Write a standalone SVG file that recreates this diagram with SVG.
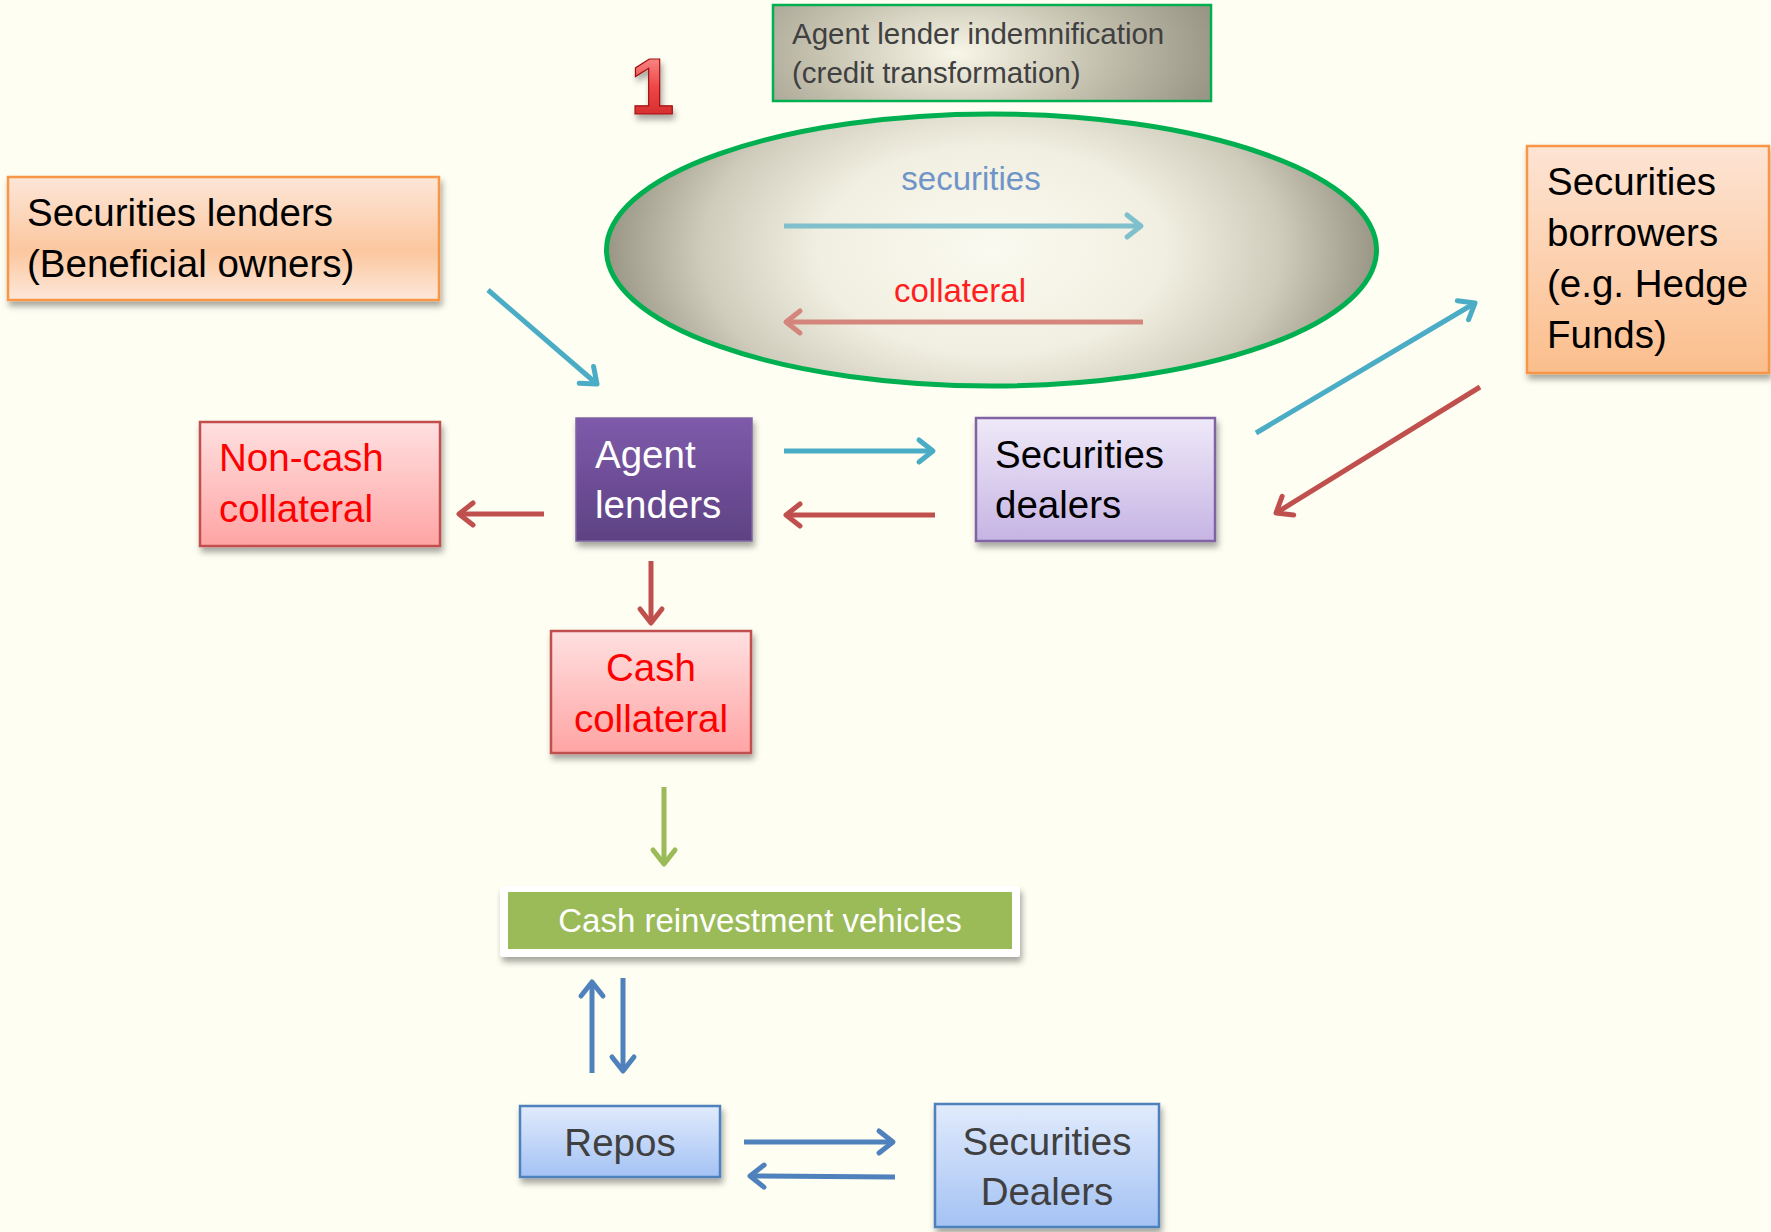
<svg xmlns="http://www.w3.org/2000/svg" width="1771" height="1232" viewBox="0 0 1771 1232">
<style>
.t{font-family:"Liberation Sans",Arial,sans-serif;}
.big{font-size:38.5px;}
.conn line{stroke-width:5;fill:none;}
.blue{stroke:#4bacc6;}
.red{stroke:#c0504d;}
.green{stroke:#9bbb59;}
.dblue{stroke:#4f81bd;}
</style>
<defs>
<filter id="sh" x="-10%" y="-10%" width="125%" height="130%">
<feDropShadow dx="2" dy="5" stdDeviation="3" flood-color="#000" flood-opacity="0.35"/>
</filter>
<radialGradient id="gEll" cx="0.5" cy="0.5" r="0.5" gradientTransform="translate(0.5 0.5) scale(1 1.7) translate(-0.5 -0.5)">
<stop offset="0" stop-color="#fbfaf0"/>
<stop offset="0.45" stop-color="#f1efe1"/>
<stop offset="0.75" stop-color="#cfccbc"/>
<stop offset="1" stop-color="#9a9686"/>
</radialGradient>
<radialGradient id="gInd" cx="0.42" cy="0.5" r="0.6" gradientTransform="translate(0.42 0.5) scale(1 2.2) translate(-0.42 -0.5)">
<stop offset="0" stop-color="#f8f6e8"/>
<stop offset="0.5" stop-color="#c9c5b3"/>
<stop offset="1" stop-color="#9a9686"/>
</radialGradient>
<linearGradient id="gOr" x1="0" y1="0" x2="0" y2="1">
<stop offset="0" stop-color="#fde6d8"/>
<stop offset="0.6" stop-color="#fbc79f"/>
<stop offset="1" stop-color="#fde8da"/>
</linearGradient>
<linearGradient id="gOr2" x1="0" y1="0" x2="0" y2="1">
<stop offset="0" stop-color="#fde4d4"/>
<stop offset="1" stop-color="#fbbe8c"/>
</linearGradient>
<linearGradient id="gPur" x1="0" y1="0" x2="0" y2="1">
<stop offset="0" stop-color="#7f5aab"/>
<stop offset="1" stop-color="#5d4283"/>
</linearGradient>
<linearGradient id="gLav" x1="0" y1="0" x2="0" y2="1">
<stop offset="0" stop-color="#efe9f8"/>
<stop offset="1" stop-color="#c6b4e4"/>
</linearGradient>
<linearGradient id="gPink" x1="0" y1="0" x2="0" y2="1">
<stop offset="0" stop-color="#ffe0e0"/>
<stop offset="1" stop-color="#ffa4a4"/>
</linearGradient>
<linearGradient id="gBlu" x1="0" y1="0" x2="0" y2="1">
<stop offset="0" stop-color="#e1ebfc"/>
<stop offset="1" stop-color="#a4c2f4"/>
</linearGradient>
<linearGradient id="gOne" x1="0" y1="0" x2="0" y2="1">
<stop offset="0" stop-color="#ffa8a8"/>
<stop offset="0.5" stop-color="#ee4848"/>
<stop offset="1" stop-color="#c82020"/>
</linearGradient>
<marker id="mBlue" markerUnits="userSpaceOnUse" markerWidth="30" markerHeight="30" viewBox="-20 -15 30 30" refX="0" refY="0" orient="auto">
<path d="M-14,-11 L0,0 L-14,11" fill="none" stroke="#4bacc6" stroke-width="5" stroke-linecap="round" stroke-linejoin="round"/>
</marker>
<marker id="mRed" markerUnits="userSpaceOnUse" markerWidth="30" markerHeight="30" viewBox="-20 -15 30 30" refX="0" refY="0" orient="auto">
<path d="M-14,-11 L0,0 L-14,11" fill="none" stroke="#c0504d" stroke-width="5" stroke-linecap="round" stroke-linejoin="round"/>
</marker>
<marker id="mGreen" markerUnits="userSpaceOnUse" markerWidth="30" markerHeight="30" viewBox="-20 -15 30 30" refX="0" refY="0" orient="auto">
<path d="M-14,-11 L0,0 L-14,11" fill="none" stroke="#9bbb59" stroke-width="5" stroke-linecap="round" stroke-linejoin="round"/>
</marker>
<marker id="mDBlue" markerUnits="userSpaceOnUse" markerWidth="30" markerHeight="30" viewBox="-20 -15 30 30" refX="0" refY="0" orient="auto">
<path d="M-14,-11 L0,0 L-14,11" fill="none" stroke="#4f81bd" stroke-width="5" stroke-linecap="round" stroke-linejoin="round"/>
</marker>
<marker id="mTeal" markerUnits="userSpaceOnUse" markerWidth="30" markerHeight="30" viewBox="-20 -15 30 30" refX="0" refY="0" orient="auto">
<path d="M-14,-11 L0,0 L-14,11" fill="none" stroke="#7fc0cc" stroke-width="5" stroke-linecap="round" stroke-linejoin="round"/>
</marker>
<marker id="mSalmon" markerUnits="userSpaceOnUse" markerWidth="30" markerHeight="30" viewBox="-20 -15 30 30" refX="0" refY="0" orient="auto">
<path d="M-14,-11 L0,0 L-14,11" fill="none" stroke="#d4867c" stroke-width="5" stroke-linecap="round" stroke-linejoin="round"/>
</marker>
</defs>

<rect x="0" y="0" width="1771" height="1232" fill="#fefef2"/>

<g id="number-1">
<text class="t" x="630" y="114" font-size="80" font-weight="bold" fill="url(#gOne)" stroke="#a01010" stroke-width="1.2" filter="url(#sh)">1</text>
</g>

<g id="indemnification">
<rect x="773" y="5" width="438" height="96" fill="url(#gInd)" stroke="#00b050" stroke-width="2.5"/>
<text class="t" x="792" y="44" font-size="29.5" fill="#404040">Agent lender indemnification</text>
<text class="t" x="792" y="83" font-size="29.5" fill="#404040">(credit transformation)</text>
</g>

<g id="ellipse">
<ellipse cx="991.5" cy="250" rx="385" ry="136" fill="url(#gEll)" stroke="#00b050" stroke-width="5"/>
<text class="t" x="971" y="190" font-size="33" fill="#6f95c8" text-anchor="middle">securities</text>
<text class="t" x="960" y="302" font-size="33" fill="#ff1f1f" text-anchor="middle">collateral</text>
</g>

<g id="securities-lenders">
<rect x="8" y="177" width="431" height="123" fill="url(#gOr)" stroke="#f79646" stroke-width="2.5" filter="url(#sh)"/>
<text class="t big" x="27" y="226" fill="#000">Securities lenders</text>
<text class="t big" x="27" y="277" fill="#000">(Beneficial owners)</text>
</g>

<g id="securities-borrowers">
<rect x="1527" y="146" width="242" height="227" fill="url(#gOr2)" stroke="#f79646" stroke-width="2.5" filter="url(#sh)"/>
<text class="t big" x="1547" y="195" fill="#000">Securities</text>
<text class="t big" x="1547" y="246" fill="#000">borrowers</text>
<text class="t big" x="1547" y="297" fill="#000">(e.g. Hedge</text>
<text class="t big" x="1547" y="348" fill="#000">Funds)</text>
</g>

<g id="agent-lenders">
<rect x="576" y="418" width="176" height="123" fill="url(#gPur)" stroke="#8064a2" stroke-width="1.5" filter="url(#sh)"/>
<text class="t big" x="595" y="468" fill="#fff">Agent</text>
<text class="t big" x="595" y="518" fill="#fff">lenders</text>
</g>

<g id="non-cash-collateral">
<rect x="200" y="422" width="240" height="124" fill="url(#gPink)" stroke="#c0504d" stroke-width="2.5" filter="url(#sh)"/>
<text class="t big" x="219" y="471" fill="#ff0000">Non-cash</text>
<text class="t big" x="219" y="522" fill="#ff0000">collateral</text>
</g>

<g id="securities-dealers">
<rect x="976" y="418" width="239" height="123" fill="url(#gLav)" stroke="#8064a2" stroke-width="2.5" filter="url(#sh)"/>
<text class="t big" x="995" y="468" fill="#000">Securities</text>
<text class="t big" x="995" y="518" fill="#000">dealers</text>
</g>

<g id="cash-collateral">
<rect x="551" y="631" width="200" height="122" fill="url(#gPink)" stroke="#c0504d" stroke-width="2.5" filter="url(#sh)"/>
<text class="t big" x="651" y="681" fill="#ff0000" text-anchor="middle">Cash</text>
<text class="t big" x="651" y="732" fill="#ff0000" text-anchor="middle">collateral</text>
</g>

<g id="cash-reinvestment">
<rect x="500" y="886" width="520" height="71" rx="3" fill="#ffffff" filter="url(#sh)"/>
<rect x="508" y="892" width="504" height="57" fill="#9bbb59"/>
<text class="t" x="760" y="932" font-size="33" fill="#fff" text-anchor="middle">Cash reinvestment vehicles</text>
</g>

<g id="repos">
<rect x="520" y="1106" width="200" height="71" fill="url(#gBlu)" stroke="#4f81bd" stroke-width="2.5" filter="url(#sh)"/>
<text class="t big" x="620" y="1156" fill="#404040" text-anchor="middle">Repos</text>
</g>

<g id="securities-dealers-2">
<rect x="935" y="1104" width="224" height="123" fill="url(#gBlu)" stroke="#4f81bd" stroke-width="2.5" filter="url(#sh)"/>
<text class="t big" x="1047" y="1155" fill="#404040" text-anchor="middle">Securities</text>
<text class="t big" x="1047" y="1205" fill="#404040" text-anchor="middle">Dealers</text>
</g>

<g id="connectors" class="conn">
<line x1="784" y1="226" x2="1141" y2="226" stroke="#7fc0cc" marker-end="url(#mTeal)"/>
<line x1="1143" y1="322" x2="786" y2="322" stroke="#d4867c" marker-end="url(#mSalmon)"/>
<line x1="488" y1="290" x2="597" y2="384" class="blue" marker-end="url(#mBlue)"/>
<line x1="544" y1="514" x2="459" y2="514" class="red" marker-end="url(#mRed)"/>
<line x1="784" y1="451" x2="933" y2="451" class="blue" marker-end="url(#mBlue)"/>
<line x1="935" y1="515" x2="786" y2="515" class="red" marker-end="url(#mRed)"/>
<line x1="1256" y1="433" x2="1475" y2="303" class="blue" marker-end="url(#mBlue)"/>
<line x1="1480" y1="387" x2="1276" y2="513" class="red" marker-end="url(#mRed)"/>
<line x1="651" y1="561" x2="651" y2="623" class="red" marker-end="url(#mRed)"/>
<line x1="664" y1="787" x2="664" y2="864" class="green" marker-end="url(#mGreen)"/>
<line x1="592" y1="1073" x2="592" y2="982" class="dblue" marker-end="url(#mDBlue)"/>
<line x1="623" y1="978" x2="623" y2="1071" class="dblue" marker-end="url(#mDBlue)"/>
<line x1="744" y1="1142" x2="893" y2="1142" class="dblue" marker-end="url(#mDBlue)"/>
<line x1="895" y1="1177" x2="750" y2="1176" class="dblue" marker-end="url(#mDBlue)"/>
</g>
</svg>
